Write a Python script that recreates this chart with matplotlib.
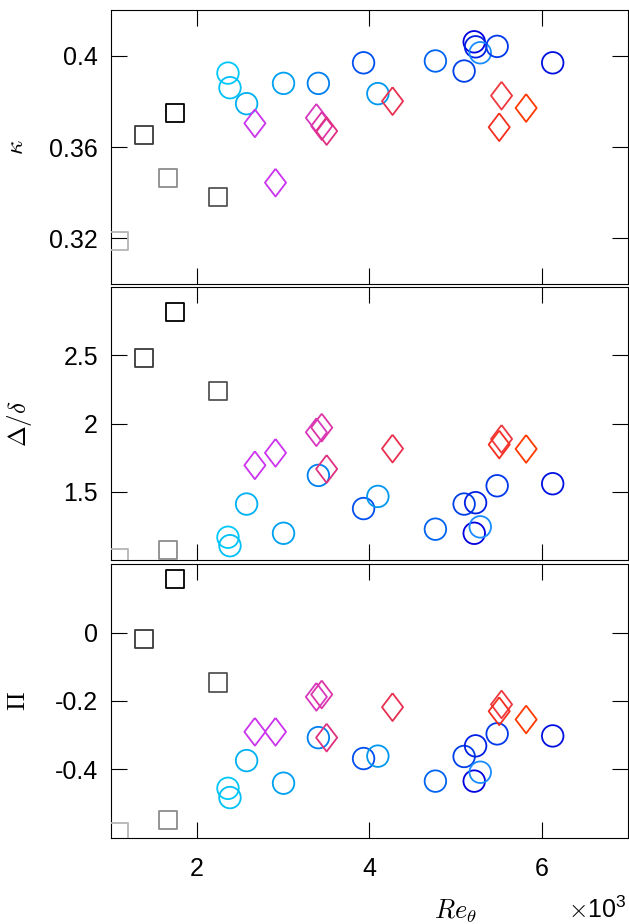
import matplotlib
matplotlib.use('Agg')
import matplotlib.pyplot as plt

# Font setup: sans tick labels, computer-modern style math for the axis symbols
plt.rcParams['font.family'] = ['Liberation Sans', 'DejaVu Sans']
plt.rcParams['mathtext.fontset'] = 'cm'

# Re_theta in units of 1e3
sq_re = [1.10, 1.387, 1.67, 1.746, 2.247]
sq_kappa = [0.3187, 0.3651, 0.3463, 0.3750, 0.3381]
sq_delta = [1.012, 2.48, 1.074, 2.814, 2.237]
sq_pi = [-0.584, -0.0195, -0.548, 0.155, -0.146]
sq_colors = ['#b4b4b4', '#3a3a3a', '#8c8c8c', '#000000', '#555555']

circ_re = [2.362, 2.385, 2.578, 3.006, 3.41, 3.934, 4.10,
           4.767, 5.10, 5.217, 5.233, 5.287, 5.483, 6.127]
circ_kappa = [0.3924, 0.3860, 0.3790, 0.3879, 0.3879, 0.3969, 0.3834,
              0.3977, 0.3933, 0.4061, 0.4039, 0.4013, 0.4041, 0.3969]
circ_delta = [1.167, 1.105, 1.41, 1.196, 1.62, 1.377, 1.466,
              1.226, 1.41, 1.196, 1.42, 1.243, 1.544, 1.559]
circ_pi = [-0.455, -0.482, -0.374, -0.44, -0.307, -0.368, -0.361,
           -0.434, -0.362, -0.434, -0.331, -0.408, -0.296, -0.302]
circ_colors = ['#00c8f8', '#00c0f8', '#00b0f0', '#00a0f0', '#0080f0', '#0050f0', '#0098f0',
               '#0064f0', '#0040e8', '#0000e0', '#0020e4', '#1a8cff', '#0038ec', '#0010e0']

dia_re = [2.674, 2.913, 3.387, 3.449, 3.506, 4.27, 5.534, 5.507, 5.819]
dia_kappa = [0.3704, 0.3444, 0.3728, 0.3692, 0.3670, 0.3801, 0.3825, 0.3687, 0.3771]
dia_delta = [1.694, 1.785, 1.936, 1.97, 1.667, 1.816, 1.887, 1.846, 1.814]
dia_pi = [-0.29, -0.29, -0.188, -0.181, -0.307, -0.218, -0.21, -0.23, -0.254]
dia_colors = ['#cc33ee', '#cc33ee', '#d838c0', '#dd35a8', '#e03080', '#e83050',
              '#f03840', '#f53020', '#ff3a00']

# tall diamond like the matlab one
diamond = [(0, 1), (0.76, 0), (0, -1), (-0.76, 0), (0, 1)]

panels = [
    ('$\\kappa$', sq_kappa, circ_kappa, dia_kappa, (0.30, 0.42), [0.32, 0.36, 0.4], ['0.32', '0.36', '0.4'], -0.159),
    ('$\\Delta/\\delta$', sq_delta, circ_delta, dia_delta, (1.0, 3.0), [1.5, 2, 2.5], ['1.5', '2', '2.5'], -0.148),
    ('$\\Pi$', sq_pi, circ_pi, dia_pi, (-0.6, 0.2), [-0.4, -0.2, 0], ['-0.4', '-0.2', '0'], -0.156),
]
positions = [[0.1757, 0.6926, 0.8227, 0.2965],
             [0.1757, 0.3939, 0.8227, 0.2955],
             [0.1757, 0.0931, 0.8227, 0.2965]]

fig = plt.figure(figsize=(6.29, 9.24), dpi=100)

for i, (label, sq_y, circ_y, dia_y, ylim, yticks, yticklabels, lab_x) in enumerate(panels):
    ax = fig.add_axes(positions[i])
    ax.scatter(sq_re, sq_y, s=13**2, marker='s', facecolors='none',
               edgecolors=sq_colors, linewidths=1.3, zorder=3)
    ax.scatter(circ_re, circ_y, s=15.5**2, marker='o', facecolors='none',
               edgecolors=circ_colors, linewidths=1.3, zorder=3)
    ax.scatter(dia_re, dia_y, s=20**2, marker=diamond, facecolors='none',
               edgecolors=dia_colors, linewidths=1.3, zorder=3)

    ax.set_xlim(1, 7)
    ax.set_ylim(*ylim)
    ax.set_xticks([2, 4, 6])
    ax.set_yticks(yticks)
    ax.set_yticklabels(yticklabels)
    ax.tick_params(direction='in', length=11.5, width=0.8, top=True, right=True,
                   labelsize=18, pad=9)
    ax.tick_params(axis='x', pad=14)
    if i < 2:
        ax.set_xticklabels([])
    else:
        ax.set_xticklabels(['2', '4', '6'])
    for sp in ax.spines.values():
        sp.set_linewidth(0.8)
    ax.set_ylabel(label, fontsize=18)
    ax.yaxis.set_label_coords(lab_x, 0.5)

# x label and exponent
fig.text(0.724, 0.006, '$Re_\\theta$', fontsize=19, ha='center', va='baseline')
fig.text(0.995, 0.006, '$\\times\\mathregular{10^3}$', fontsize=18, ha='right', va='baseline')

plt.savefig('out.png', dpi=100)
